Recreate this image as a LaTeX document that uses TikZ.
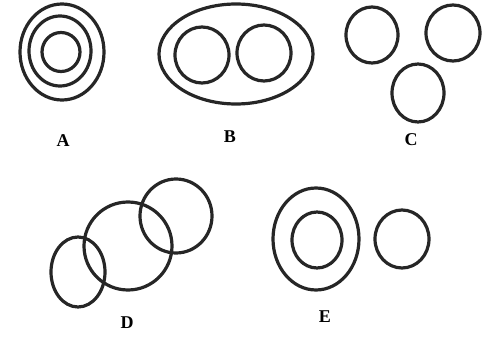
\documentclass[tikz,border=0pt]{standalone}
\usepackage{fontspec}
\setmainfont{Liberation Serif}
\begin{document}
\begin{tikzpicture}[x=1pt,y=-1pt,
  ring/.style={draw=black!85,line width=3.2pt},
  lbl/.style={font=\fontsize{18}{18}\selectfont\bfseries,inner sep=0pt}]
\useasboundingbox (0,0) rectangle (491,337);
% A
\draw[ring] (62,52) ellipse [x radius=42,y radius=48];
\draw[ring] (60,51) ellipse [x radius=31,y radius=35];
\draw[ring] (61,52) ellipse [x radius=19,y radius=19.5];
\node[lbl] (la) at (63,141) {A};
% B
\draw[ring] (236,54) ellipse [x radius=77,y radius=50];
\draw[ring] (202,55) ellipse [x radius=27,y radius=28];
\draw[ring] (264,53) ellipse [x radius=27,y radius=28];
\node[lbl] (lb) at (230,137) {B};
% C
\draw[ring] (372,35) ellipse [x radius=26,y radius=28];
\draw[ring] (453,33) ellipse [x radius=27,y radius=28];
\draw[ring] (418,93) ellipse [x radius=26,y radius=29];
\node[lbl] (lc) at (411,140) {C};
% D
\draw[ring] (78,272) ellipse [x radius=27,y radius=35];
\draw[ring] (128,246) ellipse [x radius=44,y radius=44];
\draw[ring] (176,216) ellipse [x radius=36,y radius=37];
\node[lbl] (ld) at (127,323) {D};
% E
\draw[ring] (316,239) ellipse [x radius=43,y radius=51];
\draw[ring] (317,240) ellipse [x radius=25,y radius=28];
\draw[ring] (402,239) ellipse [x radius=27,y radius=29];
\node[lbl] (le) at (325,317) {E};
\end{tikzpicture}
\end{document}
